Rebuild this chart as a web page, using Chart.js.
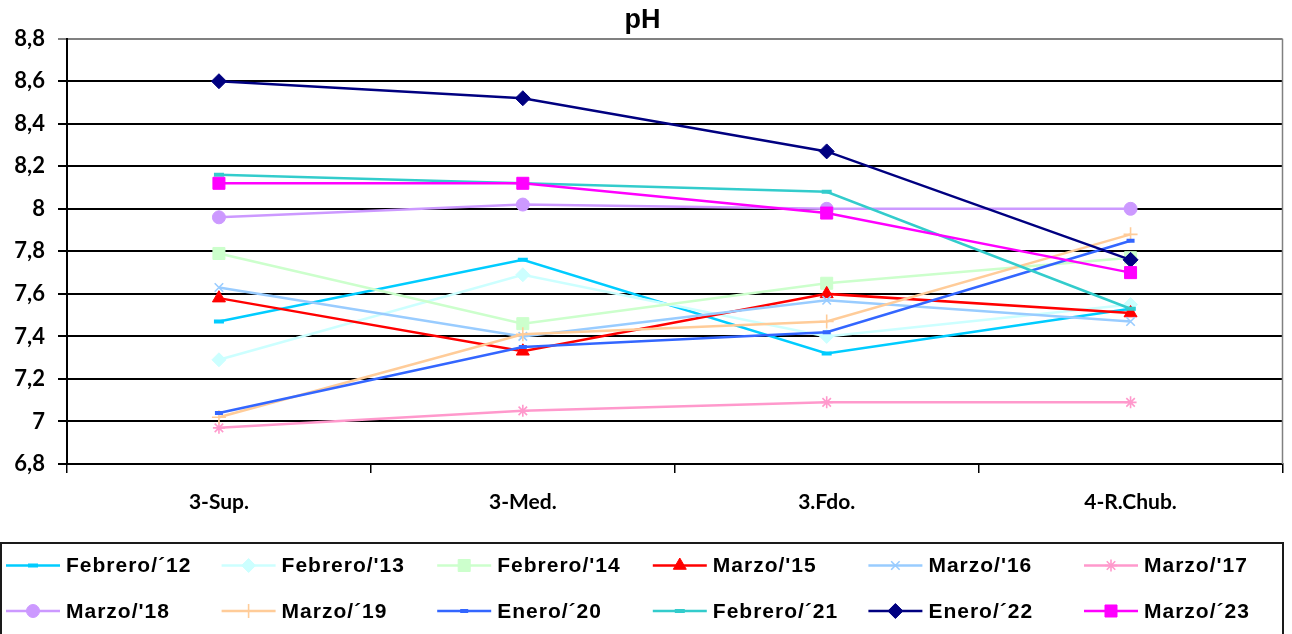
<!DOCTYPE html>
<html>
<head>
<meta charset="utf-8">
<script src="https://cdn.jsdelivr.net/npm/chart.js@4/dist/chart.umd.min.js"></script>
<style>
html,body{margin:0;padding:0;background:#fff;}
#wrap{width:1292px;height:634px;position:relative;}
</style>
</head>
<body>
<div id="wrap"><canvas id="c" width="1292" height="634"></canvas></div>
<script>
const categories = ['3-Sup.', '3-Med.', '3.Fdo.', '4-R.Chub.'];
const yTicks = [6.8, 7, 7.2, 7.4, 7.6, 7.8, 8, 8.2, 8.4, 8.6, 8.8];

const febrero12 = [7.47, 7.76, 7.32, 7.53];
const febrero13 = [7.29, 7.69, 7.40, 7.55];
const febrero14 = [7.79, 7.46, 7.65, 7.77];
const marzo15   = [7.58, 7.33, 7.60, 7.51];
const marzo16   = [7.63, 7.40, 7.57, 7.47];
const marzo17   = [6.97, 7.05, 7.09, 7.09];
const marzo18   = [7.96, 8.02, 8.00, 8.00];
const marzo19   = [7.02, 7.41, 7.47, 7.88];
const enero20   = [7.04, 7.35, 7.42, 7.85];
const febrero21 = [8.16, 8.12, 8.08, 7.53];
const enero22   = [8.60, 8.52, 8.27, 7.76];
const marzo23   = [8.12, 8.12, 7.98, 7.70];

const seriesNames = ["Febrero/\u00b412", "Febrero/'13", "Febrero/'14", "Marzo/'15", "Marzo/'16", "Marzo/'17",
                     "Marzo/'18", "Marzo/\u00b419", "Enero/\u00b420", "Febrero/\u00b421", "Enero/\u00b422", "Marzo/\u00b423"];
const seriesData = [febrero12, febrero13, febrero14, marzo15, marzo16, marzo17,
                    marzo18, marzo19, enero20, febrero21, enero22, marzo23];
const colors = ['#00CCFF', '#CCFFFF', '#CCFFCC', '#FF0000', '#99CCFF', '#FF99CC',
                '#CC99FF', '#FFCC99', '#3366FF', '#33CCCC', '#000080', '#FF00FF'];
const styles = ['line', 'rectRot', 'rect', 'triangle', 'crossRot', 'star',
                'circle', 'cross', 'line', 'line', 'rectRot', 'rect'];
const radii = [5, 7, 8.5, 7.5, 6, 6, 6.5, 7, 4, 5, 7.5, 8.5];
const pbw   = [4, 1, 1, 1, 1.6, 1.6, 1, 1.6, 4, 4, 1, 1];

const datasets = seriesNames.map((name, i) => ({
  label: name,
  data: seriesData[i],
  borderColor: colors[i],
  backgroundColor: colors[i],
  pointBackgroundColor: colors[i],
  pointBorderColor: colors[i],
  pointStyle: styles[i],
  pointRadius: radii[i],
  pointBorderWidth: pbw[i],
  borderWidth: 2.5,
  tension: 0,
  fill: false,
  order: -i
}));

const fmt = v => String(Math.round(v * 10) / 10).replace('.', ',');

const framePlugin = {
  id: 'frame',
  afterDraw(chart) {
    const ctx = chart.ctx, a = chart.chartArea;
    ctx.save();
    ctx.strokeStyle = '#808080';
    ctx.lineWidth = 1.5;
    ctx.beginPath();
    ctx.moveTo(a.right, a.top);
    ctx.lineTo(a.right, a.bottom);
    ctx.stroke();
    const boxTop = 543, boxLeft = 1, boxRight = 1283;
    ctx.strokeStyle = '#1a1a1a';
    ctx.lineWidth = 2;
    ctx.beginPath();
    ctx.moveTo(boxLeft, chart.height + 5);
    ctx.lineTo(boxLeft, boxTop);
    ctx.lineTo(boxRight, boxTop);
    ctx.lineTo(boxRight, chart.height + 5);
    ctx.stroke();
    const rowsY = [565.5, 611];
    const colStep = 215.6, x0 = 6, lineLen = 54;
    ctx.font = 'bold 21px "Liberation Sans", Arial, sans-serif';
    try { ctx.letterSpacing = '1px'; } catch (e) {}
    ctx.textBaseline = 'middle';
    ctx.textAlign = 'left';
    chart.data.datasets.forEach((ds, i) => {
      const row = Math.floor(i / 6), col = i % 6;
      const x = x0 + col * colStep, y = rowsY[row];
      ctx.strokeStyle = ds.borderColor;
      ctx.lineWidth = 2.5;
      ctx.beginPath();
      ctx.moveTo(x, y);
      ctx.lineTo(x + lineLen, y);
      ctx.stroke();
      ctx.fillStyle = ds.pointBackgroundColor;
      ctx.strokeStyle = ds.pointBorderColor;
      ctx.lineWidth = ds.pointBorderWidth;
      if (Chart.helpers && Chart.helpers.drawPoint) {
        Chart.helpers.drawPoint(ctx, {
          pointStyle: ds.pointStyle, radius: ds.pointRadius,
          borderWidth: ds.pointBorderWidth, rotation: 0
        }, x + lineLen / 2, y);
      }
      ctx.fillStyle = '#000';
      ctx.fillText(ds.label, x + lineLen + 6, y + 1);
    });
    ctx.restore();
  }
};

new Chart(document.getElementById('c'), {
  type: 'line',
  data: { labels: categories, datasets },
  options: {
    responsive: false,
    animation: false,
    layout: { padding: { left: 0, right: 7, top: 0, bottom: 110 } },
    plugins: {
      legend: { display: false },
      tooltip: { enabled: false },
      title: {
        display: true,
        text: 'pH',
        color: '#000',
        font: { family: '"Liberation Sans", Arial, sans-serif', size: 27, weight: 'bold', lineHeight: 1.1 },
        padding: { top: 6, bottom: 3 }
      }
    },
    scales: {
      x: {
        offset: true,
        grid: { offset: true, drawOnChartArea: false, drawTicks: true, tickLength: 9, color: '#000', lineWidth: 1.5 },
        border: { display: true, color: '#000', width: 2 },
        ticks: { color: '#000', font: { family: 'Lato, sans-serif', size: 21, weight: 'bold' }, padding: 17, maxRotation: 0 },
        afterFit: s => { s.height = 60; }
      },
      y: {
        min: 6.8, max: 8.8,
        afterBuildTicks: s => { s.ticks = yTicks.map(v => ({ value: v })); },
        grid: {
          color: ctx => (ctx.tick && ctx.tick.value === 8.8 ? '#808080' : '#000'),
          lineWidth: 2,
          tickLength: 9,
          drawTicks: true
        },
        border: { display: true, color: '#000', width: 2 },
        ticks: {
          color: '#000',
          font: { family: 'Lato, sans-serif', size: 22, weight: 'bold' },
          padding: 13,
          callback: v => fmt(v)
        },
        afterFit: s => { s.width = 67; }
      }
    }
  },
  plugins: [framePlugin]
});
</script>
</body>
</html>
